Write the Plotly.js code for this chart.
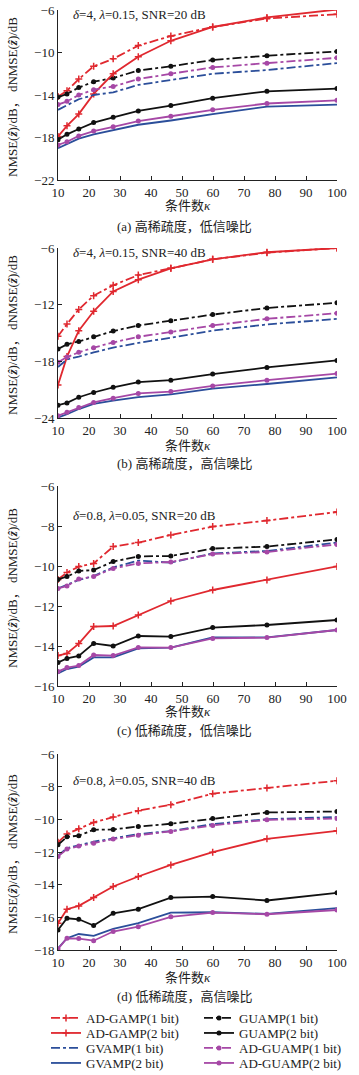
<!DOCTYPE html>
<html>
<head>
<meta charset="utf-8">
<script src="https://cdn.plot.ly/plotly-3.0.1.min.js"></script>
<style>html,body{margin:0;padding:0;background:#fff;}#chart{width:359px;height:1075px;}</style>
</head>
<body>
<div id="chart"></div>
<script>
// condition number kappa (x values)
const kappa = [10, 12.9, 16.7, 21.5, 27.8, 35.9, 46.4, 59.9, 77.4, 100];

const seriesNames = ["AD-GAMP(1 bit)", "GUAMP(1 bit)", "AD-GAMP(2 bit)", "GUAMP(2 bit)",
                     "GVAMP(1 bit)", "AD-GUAMP(1 bit)", "GVAMP(2 bit)", "AD-GUAMP(2 bit)"];

// Panel (a): delta=4, lambda=0.15, SNR=20 dB
const a_adgamp1 = [-14.15, -13.6, -12.5, -11.3, -10.6, -9.35, -8.45, -7.6, -6.8, -6.4];
const a_guamp1  = [-14.2, -13.9, -13.3, -12.75, -12.4, -11.7, -11.3, -10.7, -10.3, -9.9];
const a_adgamp2 = [-17.9, -16.9, -15.8, -13.9, -12.0, -10.4, -8.9, -7.6, -6.7, -5.95];
const a_guamp2  = [-18.2, -17.7, -17.2, -16.6, -16.1, -15.5, -15.0, -14.3, -13.65, -13.4];
const a_gvamp1  = [-15.4, -15.0, -14.4, -14.0, -13.75, -13.05, -12.6, -12.0, -11.65, -11.0];
const a_adguamp1= [-14.9, -14.6, -14.0, -13.5, -13.2, -12.5, -12.0, -11.4, -11.0, -10.5];
const a_gvamp2  = [-19.0, -18.6, -18.1, -17.7, -17.3, -16.8, -16.4, -15.8, -15.1, -14.9];
const a_adguamp2= [-18.7, -18.4, -17.85, -17.4, -17.0, -16.45, -16.0, -15.4, -14.8, -14.5];

// Panel (b): delta=4, lambda=0.15, SNR=40 dB
const b_adgamp1 = [-15.35, -14.05, -12.5, -11.05, -9.95, -8.86, -8.15, -7.2, -6.5, -6.0];
const b_guamp1  = [-16.7, -16.2, -15.9, -15.4, -14.8, -14.2, -13.7, -13.05, -12.35, -11.8];
const b_adgamp2 = [-20.5, -17.5, -14.75, -12.7, -10.6, -9.35, -8.15, -7.2, -6.45, -6.0];
const b_guamp2  = [-22.65, -22.4, -21.8, -21.3, -20.75, -20.2, -20.0, -19.35, -18.65, -17.9];
const b_gvamp1  = [-18.6, -17.8, -17.5, -17.05, -16.55, -16.05, -15.5, -14.75, -14.1, -13.5];
const b_adguamp1= [-18.1, -17.55, -17.05, -16.55, -16.0, -15.4, -14.9, -14.2, -13.5, -12.9];
const b_gvamp2  = [-23.95, -23.6, -23.05, -22.5, -22.15, -21.8, -21.5, -20.9, -20.4, -19.7];
const b_adguamp2= [-23.75, -23.4, -22.9, -22.35, -21.9, -21.4, -21.2, -20.6, -20.0, -19.3];

// Panel (c): delta=0.8, lambda=0.05, SNR=20 dB
const c_adgamp1 = [-10.67, -10.33, -10.03, -9.87, -9.03, -8.83, -8.45, -8.03, -7.73, -7.3];
const c_guamp1  = [-10.67, -10.53, -10.25, -10.2, -9.78, -9.52, -9.5, -9.13, -9.03, -8.67];
const c_adgamp2 = [-14.48, -14.37, -13.88, -13.03, -13.0, -12.45, -11.75, -11.2, -10.7, -10.02];
const c_guamp2  = [-14.82, -14.62, -14.5, -13.87, -14.0, -13.5, -13.53, -13.08, -12.95, -12.7];
const c_gvamp1  = [-11.12, -10.95, -10.7, -10.5, -10.07, -9.73, -9.83, -9.37, -9.25, -8.83];
const c_adguamp1= [-11.12, -11.0, -10.65, -10.53, -10.12, -9.87, -9.8, -9.4, -9.3, -8.92];
const c_gvamp2  = [-15.37, -15.15, -15.03, -14.57, -14.57, -14.12, -14.08, -13.57, -13.57, -13.2];
const c_adguamp2= [-15.28, -15.08, -14.98, -14.45, -14.48, -14.07, -14.08, -13.62, -13.58, -13.2];

// Panel (d): delta=0.8, lambda=0.05, SNR=40 dB
const d_adgamp1 = [-11.4, -10.9, -10.58, -10.19, -9.86, -9.47, -9.1, -8.43, -8.08, -7.64];
const d_guamp1  = [-11.56, -11.07, -11.0, -10.64, -10.62, -10.44, -10.27, -9.95, -9.58, -9.52];
const d_adgamp2 = [-16.36, -15.5, -15.3, -14.79, -14.11, -13.5, -12.79, -12.01, -11.19, -10.7];
const d_guamp2  = [-16.77, -16.06, -16.12, -16.5, -15.75, -15.5, -14.79, -14.73, -14.97, -14.5];
const d_gvamp1  = [-12.23, -11.76, -11.6, -11.37, -11.17, -10.9, -10.72, -10.29, -9.99, -9.86];
const d_adguamp1= [-12.27, -11.82, -11.64, -11.46, -11.21, -10.97, -10.74, -10.37, -10.03, -9.95];
const d_gvamp2  = [-17.9, -17.28, -17.02, -17.14, -16.71, -16.36, -15.71, -15.69, -15.79, -15.44];
const d_adguamp2= [-17.94, -17.28, -17.3, -17.43, -16.87, -16.57, -15.97, -15.71, -15.81, -15.55];

const panelTexts = ["<i>δ</i>=4, <i>λ</i>=0.15, SNR=20 dB", "<i>δ</i>=4, <i>λ</i>=0.15, SNR=40 dB",
                    "<i>δ</i>=0.8, <i>λ</i>=0.05, SNR=20 dB", "<i>δ</i>=0.8, <i>λ</i>=0.05, SNR=40 dB"];
const captions = ["(a) 高稀疏度，低信噪比", "(b) 高稀疏度，高信噪比", "(c) 低稀疏度，低信噪比", "(d) 低稀疏度，高信噪比"];
const yRanges = [[-22, -6], [-24, -6], [-16, -6], [-18, -6]];
const yDticks = [4, 6, 2, 2];

const panels = [
  [a_adgamp1, a_guamp1, a_adgamp2, a_guamp2, a_gvamp1, a_adguamp1, a_gvamp2, a_adguamp2],
  [b_adgamp1, b_guamp1, b_adgamp2, b_guamp2, b_gvamp1, b_adguamp1, b_gvamp2, b_adguamp2],
  [c_adgamp1, c_guamp1, c_adgamp2, c_guamp2, c_gvamp1, c_adguamp1, c_gvamp2, c_adguamp2],
  [d_adgamp1, d_guamp1, d_adgamp2, d_guamp2, d_gvamp1, d_adguamp1, d_gvamp2, d_adguamp2]
];

const RED = "#e0282f", BLK = "#111111", BLU = "#2b4e9a", PUR = "#a648a6";
const styles = [
  {color: RED, dash: "dashdot", symbol: "cross-thin", msize: 5},
  {color: BLK, dash: "dashdot", symbol: "circle", msize: 3.5},
  {color: RED, dash: "solid", symbol: "cross-thin", msize: 5},
  {color: BLK, dash: "solid", symbol: "circle", msize: 3.5},
  {color: BLU, dash: "dashdot", symbol: null, msize: 0},
  {color: PUR, dash: "dashdot", symbol: "circle", msize: 3.5},
  {color: BLU, dash: "solid", symbol: null, msize: 0},
  {color: PUR, dash: "solid", symbol: "circle", msize: 3.5}
];
const W = 359, H = 1075;
const px2x = p => p / W;
const py2y = p => 1 - p / H;
const plotTop = [10, 248, 486, 754], plotBot = [180, 418, 686, 950];
const xTitleY = [206, 445, 711, 977], captionY = [226, 464, 730, 996];
const noteY = [15, 252, 515, 780];
const legendRowY = [1018, 1033, 1048, 1063];
const legendIds = ["legend", "legend2", "legend3", "legend4"];

const traces = [];
panels.forEach((series, pi) => {
  const ax = pi === 0 ? "" : String(pi + 1);
  series.forEach((vals, si) => {
    const st = styles[si];
    const t = {
      x: kappa, y: vals, type: "scatter",
      mode: st.symbol ? "lines+markers" : "lines",
      name: seriesNames[si],
      xaxis: "x" + ax, yaxis: "y" + ax,
      line: {color: st.color, width: 1.8, dash: st.dash},
      showlegend: pi === 0,
      legend: legendIds[Math.floor(si / 2)]
    };
    if (st.symbol) t.marker = {symbol: st.symbol, size: st.msize, color: st.color, line: {color: st.color, width: 1.5}};
    traces.push(t);
  });
});

const serif = "Liberation Serif, Times New Roman, serif";
const mixed = "Liberation Serif, Noto Sans CJK SC, serif";
const layout = {
  width: W, height: H,
  margin: {l: 0, r: 0, t: 0, b: 0, autoexpand: false},
  paper_bgcolor: "#fff", plot_bgcolor: "#fff",
  font: {family: serif, size: 13, color: "#222"},
  showlegend: true,
  annotations: [],
  shapes: []
};
legendIds.forEach((id, i) => {
  layout[id] = {
    orientation: "h", x: px2x(46), y: py2y(legendRowY[i]), xanchor: "left", yanchor: "middle",
    entrywidth: 108, entrywidthmode: "pixels", traceorder: "normal",
    font: {family: serif, size: 13, color: "#222"},
    itemwidth: 30, bgcolor: "rgba(0,0,0,0)", borderwidth: 0
  };
});
for (let pi = 0; pi < 4; pi++) {
  const ax = pi === 0 ? "" : String(pi + 1);
  layout["xaxis" + ax] = {
    domain: [px2x(58), px2x(337)], anchor: "y" + ax, range: [10, 100],
    tickvals: [10, 20, 30, 40, 50, 60, 70, 80, 90, 100],
    ticks: "inside", ticklen: 4, tickcolor: "#222", showline: true, linecolor: "#222", linewidth: 1,
    showgrid: false, zeroline: false, tickfont: {family: serif, size: 13, color: "#222"},
    ticklabelstandoff: 0
  };
  layout["yaxis" + ax] = {
    domain: [py2y(plotBot[pi]), py2y(plotTop[pi])], anchor: "x" + ax, range: yRanges[pi],
    dtick: yDticks[pi], tick0: -6,
    ticks: "inside", ticklen: 4, tickcolor: "#222", showline: true, linecolor: "#222", linewidth: 1,
    showgrid: false, zeroline: false, tickfont: {family: serif, size: 13, color: "#222"}
  };
  layout.annotations.push({
    xref: "paper", yref: "paper", x: px2x(71), y: py2y(noteY[pi]), xanchor: "left", yanchor: "middle",
    text: panelTexts[pi], showarrow: false, font: {family: serif, size: 13, color: "#222"}
  });
  layout.annotations.push({
    xref: "paper", yref: "paper", x: px2x(188), y: py2y(xTitleY[pi]), xanchor: "center", yanchor: "middle",
    text: "条件数<i>κ</i>", showarrow: false, font: {family: mixed, size: 13, color: "#222"}
  });
  layout.annotations.push({
    xref: "paper", yref: "paper", x: px2x(184), y: py2y(captionY[pi]), xanchor: "center", yanchor: "middle",
    text: captions[pi], showarrow: false, font: {family: mixed, size: 13, color: "#222"}
  });
  layout.annotations.push({
    xref: "paper", yref: "paper", x: px2x(12), y: py2y((plotTop[pi] + plotBot[pi]) / 2 + 2), xanchor: "center", yanchor: "middle",
    textangle: -90, text: "NMSE(<b><i>ẑ</i></b>)/dB， dNMSE(<b><i>ẑ</i></b>)/dB", showarrow: false,
    font: {family: mixed, size: 13, color: "#222"}
  });
}
Plotly.newPlot("chart", traces, layout, {staticPlot: true, displayModeBar: false});
</script>
</body>
</html>
